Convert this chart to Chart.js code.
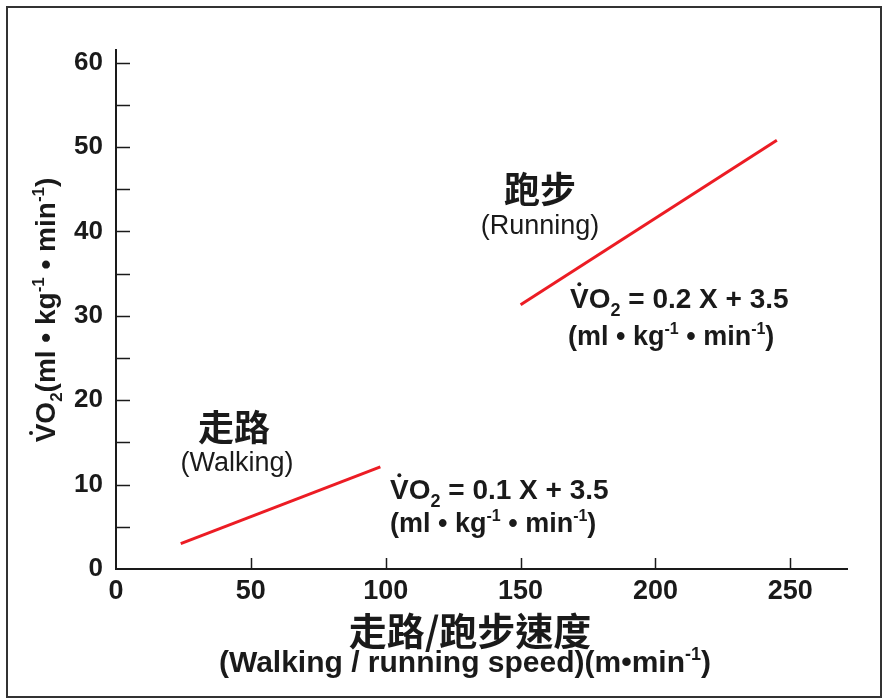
<!DOCTYPE html>
<html>
<head>
<meta charset="utf-8">
<script src="https://cdn.jsdelivr.net/npm/chart.js@4.4.1/dist/chart.umd.min.js"></script>
<style>
  html, body { margin: 0; padding: 0; background: #fff; }
  #wrap { width: 883px; height: 700px; position: relative; }
</style>
</head>
<body>
<div id="wrap"><canvas id="chart-vo2" width="883" height="700"></canvas></div>
<script>
// Dados
const walkSpeed = [24, 98];
const walkVO2 = [3.0, 12.1];
const runSpeed = [150, 245];
const runVO2 = [31.3, 50.8];
const xTickValues = [0, 50, 100, 150, 200, 250];
const yTickValues = [0, 5, 10, 15, 20, 25, 30, 35, 40, 45, 50, 55, 60];

const LATIN = '"Liberation Sans", Arial, sans-serif';
const CJK = '"Noto Sans CJK TC", "Noto Sans CJK SC", sans-serif';
const INK = '#1a1a1a';

// Desenha texto com sub/sobrescrito e ponto sobre o V
function drawRich(ctx, x, y, segs, align) {
  ctx.save();
  ctx.textBaseline = 'alphabetic';
  ctx.textAlign = 'left';
  let total = 0;
  segs.forEach(s => { ctx.font = s.f; total += ctx.measureText(s.t).width; });
  let cx = align === 'center' ? x - total / 2 : x;
  segs.forEach(s => {
    ctx.font = s.f;
    const w = ctx.measureText(s.t).width;
    ctx.fillText(s.t, cx, y + (s.dy || 0));
    if (s.dot) {
      ctx.beginPath();
      ctx.arc(cx + w / 2, y - s.dot, 2, 0, Math.PI * 2);
      ctx.fill();
    }
    cx += w;
  });
  ctx.restore();
}

function unitsSegs(size) {
  const big = `bold ${size}px ${LATIN}`;
  const small = `bold ${Math.round(size * 0.6)}px ${LATIN}`;
  return [
    { t: '(ml \u2022 kg', f: big },
    { t: '-1', f: small, dy: -size * 0.4 },
    { t: ' \u2022 min', f: big },
    { t: '-1', f: small, dy: -size * 0.4 },
    { t: ')', f: big }
  ];
}

function eqSegs(size, slope) {
  const big = `bold ${size}px ${LATIN}`;
  const small = `bold ${Math.round(size * 0.65)}px ${LATIN}`;
  return [
    { t: 'V', f: big, dot: size * 0.85 },
    { t: 'O', f: big },
    { t: '2', f: small, dy: size * 0.28 },
    { t: ' = ' + slope + ' X + 3.5', f: big }
  ];
}

const decorations = {
  id: 'decorations',
  beforeDraw(chart) {
    const ctx = chart.ctx;
    ctx.save();
    ctx.fillStyle = '#fff';
    ctx.fillRect(0, 0, chart.width, chart.height);
    ctx.restore();
  },
  afterDraw(chart) {
    const ctx = chart.ctx;
    const xs = chart.scales.x;
    const ys = chart.scales.y;
    const area = chart.chartArea;
    ctx.save();
    ctx.strokeStyle = INK;
    ctx.lineWidth = 1.5;

    // marcas dos eixos para dentro
    xTickValues.forEach(v => {
      if (v === 0) return;
      const px = Math.round(xs.getPixelForValue(v)) + 0.5;
      ctx.beginPath();
      ctx.moveTo(px, area.bottom);
      ctx.lineTo(px, area.bottom - 11);
      ctx.stroke();
    });
    yTickValues.forEach(v => {
      if (v === 0) return;
      const py = Math.round(ys.getPixelForValue(v)) + 0.5;
      ctx.beginPath();
      ctx.moveTo(area.left, py);
      ctx.lineTo(area.left + 14, py);
      ctx.stroke();
    });

    // moldura
    ctx.strokeStyle = '#333';
    ctx.lineWidth = 2;
    ctx.strokeRect(7, 7, 874, 690);

    ctx.fillStyle = INK;

    // titulo eixo Y (rotacionado)
    ctx.save();
    ctx.translate(55, 310);
    ctx.rotate(-Math.PI / 2);
    const yb = `bold 28px ${LATIN}`;
    const ys2 = `bold 17px ${LATIN}`;
    drawRich(ctx, 0, 0, [
      { t: 'V', f: yb, dot: 24 },
      { t: 'O', f: yb },
      { t: '2', f: ys2, dy: 7 },
      { t: '(ml \u2022 kg', f: yb },
      { t: '-1', f: ys2, dy: -11 },
      { t: ' \u2022 min', f: yb },
      { t: '-1', f: ys2, dy: -11 },
      { t: ')', f: yb }
    ], 'center');
    ctx.restore();

    // titulo eixo X
    ctx.textAlign = 'center';
    ctx.textBaseline = 'middle';
    ctx.font = `bold 38px ${CJK}`;
    ctx.fillText('走路/跑步速度', 470, 631);
    drawRich(ctx, 465, 672, [
      { t: '(Walking / running speed)(m\u2022min', f: `bold 30px ${LATIN}` },
      { t: '-1', f: `bold 18px ${LATIN}`, dy: -12 },
      { t: ')', f: `bold 30px ${LATIN}` }
    ], 'center');

    // rotulos das retas
    ctx.textAlign = 'center';
    ctx.textBaseline = 'middle';
    ctx.font = `bold 36px ${CJK}`;
    ctx.fillText('走路', 234, 427);
    ctx.fillText('跑步', 540, 189);
    ctx.font = `27px ${LATIN}`;
    ctx.fillText('(Walking)', 237, 464);
    ctx.fillText('(Running)', 540, 227);

    drawRich(ctx, 390, 499, eqSegs(28, '0.1'), 'left');
    drawRich(ctx, 390, 532, unitsSegs(27), 'left');
    drawRich(ctx, 570, 308, eqSegs(28, '0.2'), 'left');
    drawRich(ctx, 568, 345, unitsSegs(27), 'left');

    ctx.restore();
  }
};

const lineStyle = {
  borderColor: '#ec1c24',
  borderWidth: 3,
  pointRadius: 0,
  fill: false,
  tension: 0
};

new Chart(document.getElementById('chart-vo2'), {
  type: 'line',
  data: {
    datasets: [
      Object.assign({
        label: 'Walking',
        data: walkSpeed.map((s, i) => ({ x: s, y: walkVO2[i] }))
      }, lineStyle),
      Object.assign({
        label: 'Running',
        data: runSpeed.map((s, i) => ({ x: s, y: runVO2[i] }))
      }, lineStyle)
    ]
  },
  options: {
    responsive: false,
    animation: false,
    layout: { padding: { top: 50, right: 36, left: 0, bottom: 0 } },
    plugins: {
      legend: { display: false },
      tooltip: { enabled: false }
    },
    scales: {
      x: {
        type: 'linear',
        min: 0,
        max: 271,
        afterBuildTicks: scale => { scale.ticks = xTickValues.map(v => ({ value: v })); },
        afterFit: scale => { scale.height = 131; },
        grid: { display: false, drawTicks: false },
        border: { display: true, color: INK, width: 2 },
        ticks: {
          padding: 6,
          color: INK,
          maxRotation: 0,
          font: { family: LATIN, size: 27, weight: 'bold' }
        }
      },
      y: {
        type: 'linear',
        min: 0,
        max: 61.5,
        afterBuildTicks: scale => { scale.ticks = yTickValues.map(v => ({ value: v })); },
        afterFit: scale => { scale.width = 116; },
        grid: { display: false, drawTicks: false },
        border: { display: true, color: INK, width: 2 },
        ticks: {
          padding: 13,
          color: INK,
          font: { family: LATIN, size: 26, weight: 'bold' },
          callback: v => (v % 10 === 0 ? v : '')
        }
      }
    }
  },
  plugins: [decorations]
});
</script>
</body>
</html>
